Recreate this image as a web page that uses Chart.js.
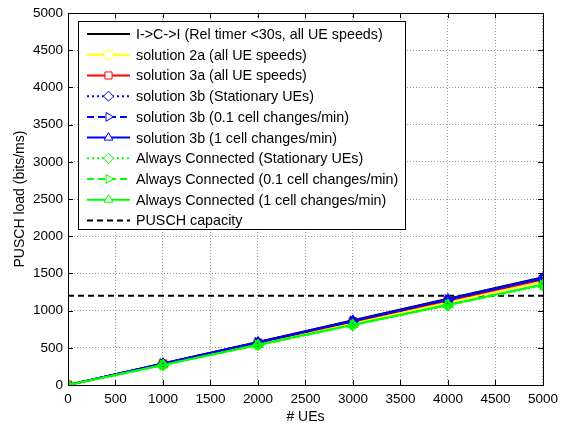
<!DOCTYPE html>
<html>
<head>
<meta charset="utf-8">
<script src="https://cdn.jsdelivr.net/npm/chart.js@4.4.1/dist/chart.umd.min.js"></script>
<style>
  body { margin: 0; background: #fff; }
  canvas { display: block; }
</style>
</head>
<body>
<canvas id="loadChart" width="564" height="428"></canvas>
<script>
// number of UEs on the x-axis
var ues = [0, 1000, 2000, 3000, 4000, 5000];
var axisTicks = [0, 500, 1000, 1500, 2000, 2500, 3000, 3500, 4000, 4500, 5000];

// PUSCH load per scheme (bits/ms)
var iciRelTimer = [0, 290, 580, 870, 1160, 1450];
var sol2a = [0, 278, 556, 834, 1112, 1392];
var sol3a = [0, 284, 568, 852, 1136, 1420];
var sol3bStationary = [0, 286, 572, 858, 1144, 1430];
var sol3bSlow = [0, 287, 574, 861, 1148, 1435];
var sol3bFast = [0, 288, 576, 864, 1152, 1440];
var alwaysStationary = [0, 268, 536, 804, 1072, 1340];
var alwaysSlow = [0, 269, 538, 807, 1076, 1345];
var alwaysFast = [0, 270, 540, 810, 1080, 1350];
var puschCapacity = 1200;

var FONT = 'Arial, "Liberation Sans", sans-serif';
var DOTTED = [2, 3];
var DASHED = [7, 4];

function series(label, values, color, dash, marker, rotation) {
  return {
    label: label,
    data: values.map(function (v, i) { return { x: ues[i], y: v }; }),
    borderColor: color,
    backgroundColor: color,
    borderWidth: 2,
    borderDash: dash,
    pointStyle: marker || 'circle',
    pointRotation: rotation || 0,
    pointRadius: marker ? 5 : 0,
    pointHoverRadius: marker ? 5 : 0,
    pointBorderColor: color,
    pointBackgroundColor: 'rgba(0,0,0,0)',
    pointBorderWidth: 1.5,
    tension: 0,
    fill: false
  };
}

var datasets = [
  series('I->C->I (Rel timer <30s, all UE speeds)', iciRelTimer, '#000000', [], null),
  series('solution 2a (all UE speeds)', sol2a, '#ffff00', [], 'circle'),
  series('solution 3a (all UE speeds)', sol3a, '#ff0000', [], 'rect'),
  series('solution 3b (Stationary UEs)', sol3bStationary, '#0000ff', DOTTED, 'rectRot'),
  series('solution 3b (0.1 cell changes/min)', sol3bSlow, '#0000ff', DASHED, 'triangle', 90),
  series('solution 3b (1 cell changes/min)', sol3bFast, '#0000ff', [], 'triangle'),
  series('Always Connected (Stationary UEs)', alwaysStationary, '#00ff00', DOTTED, 'rectRot'),
  series('Always Connected (0.1 cell changes/min)', alwaysSlow, '#00ff00', DASHED, 'triangle', 90),
  series('Always Connected (1 cell changes/min)', alwaysFast, '#00ff00', [], 'triangle'),
  series('PUSCH capacity', [puschCapacity, puschCapacity, puschCapacity, puschCapacity, puschCapacity, puschCapacity], '#000000', [6, 4], null)
];
// later series sit on top, like the plotting order
datasets.forEach(function (d, i) { d.order = datasets.length - i; });
datasets[datasets.length - 1].order = datasets.length + 1;

// box around the axes with inward ticks on all four sides
var axesFrame = {
  id: 'axesFrame',
  afterDatasetsDraw: function (chart) {
    var ctx = chart.ctx, a = chart.chartArea;
    var xs = chart.scales.x, ys = chart.scales.y, len = 5;
    ctx.save();
    ctx.strokeStyle = '#000';
    ctx.lineWidth = 1;
    ctx.beginPath();
    axisTicks.forEach(function (t) {
      var px = Math.round(xs.getPixelForValue(t)) + 0.5;
      ctx.moveTo(px, a.bottom); ctx.lineTo(px, a.bottom - len);
      ctx.moveTo(px, a.top); ctx.lineTo(px, a.top + len);
      var py = Math.round(ys.getPixelForValue(t)) + 0.5;
      ctx.moveTo(a.left, py); ctx.lineTo(a.left + len, py);
      ctx.moveTo(a.right, py); ctx.lineTo(a.right - len, py);
    });
    ctx.stroke();
    ctx.strokeRect(Math.round(a.left) + 0.5, Math.round(a.top) + 0.5,
      Math.round(a.right - a.left), Math.round(a.bottom - a.top));
    ctx.restore();
  }
};

// boxed legend in the upper left corner: line sample, marker, label
var legendBox = {
  id: 'legendBox',
  afterDraw: function (chart) {
    var ctx = chart.ctx, a = chart.chartArea;
    var bx = a.left + 10, by = a.top + 8, bw = 327, rowH = 20.7;
    var bh = rowH * datasets.length + 1;
    ctx.save();
    ctx.fillStyle = '#fff';
    ctx.fillRect(bx, by, bw, bh);
    ctx.strokeStyle = '#000';
    ctx.lineWidth = 1;
    ctx.strokeRect(Math.round(bx) + 0.5, Math.round(by) + 0.5, bw, Math.round(bh));
    ctx.font = '14.3px ' + FONT;
    ctx.textBaseline = 'middle';
    datasets.forEach(function (d, i) {
      var cy = by + 13 + i * rowH;
      ctx.save();
      ctx.strokeStyle = d.borderColor;
      ctx.lineWidth = 2;
      ctx.setLineDash(d.borderDash);
      ctx.beginPath();
      ctx.moveTo(bx + 9, cy);
      ctx.lineTo(bx + 52, cy);
      ctx.stroke();
      ctx.restore();
      if (d.pointRadius > 0) {
        ctx.save();
        ctx.strokeStyle = d.pointBorderColor;
        ctx.fillStyle = '#fff';
        Chart.helpers.drawPoint(ctx, {
          pointStyle: d.pointStyle,
          rotation: d.pointRotation,
          radius: d.pointRadius,
          borderWidth: d.pointBorderWidth
        }, bx + 30.5, cy);
        ctx.restore();
      }
      ctx.fillStyle = '#000';
      ctx.fillText(d.label, bx + 58, cy + 1);
    });
    ctx.restore();
  }
};

var gridOpts = { color: '#9a9a9a', lineWidth: 1, drawTicks: false };
var borderOpts = { display: false, dash: [1, 2] };
var plainNumber = function (v) { return String(v); };

new Chart(document.getElementById('loadChart'), {
  type: 'line',
  data: { datasets: datasets },
  plugins: [axesFrame, legendBox],
  options: {
    responsive: false,
    animation: false,
    events: [],
    layout: { padding: { top: 12, right: 21, left: 0, bottom: 0 } },
    plugins: {
      legend: { display: false },
      tooltip: { enabled: false }
    },
    scales: {
      x: {
        type: 'linear',
        min: 0,
        max: 5000,
        afterBuildTicks: function (s) { s.ticks = axisTicks.map(function (v) { return { value: v }; }); },
        afterFit: function (s) { s.height = 43; },
        grid: gridOpts,
        border: borderOpts,
        ticks: { color: '#000', padding: 6, maxRotation: 0, callback: plainNumber, font: { family: FONT, size: 13.5 } },
        title: { display: true, text: '# UEs', color: '#000', padding: { top: 0, bottom: 2 }, font: { family: FONT, size: 14 } }
      },
      y: {
        type: 'linear',
        min: 0,
        max: 5000,
        afterBuildTicks: function (s) { s.ticks = axisTicks.map(function (v) { return { value: v }; }); },
        afterFit: function (s) { s.width = 68; },
        grid: gridOpts,
        border: borderOpts,
        ticks: { color: '#000', padding: 5, callback: plainNumber, font: { family: FONT, size: 13.5 } },
        title: { display: true, text: 'PUSCH load (bits/ms)', color: '#000', padding: { top: 12, bottom: 0 }, font: { family: FONT, size: 14 } }
      }
    }
  }
});
</script>
</body>
</html>
